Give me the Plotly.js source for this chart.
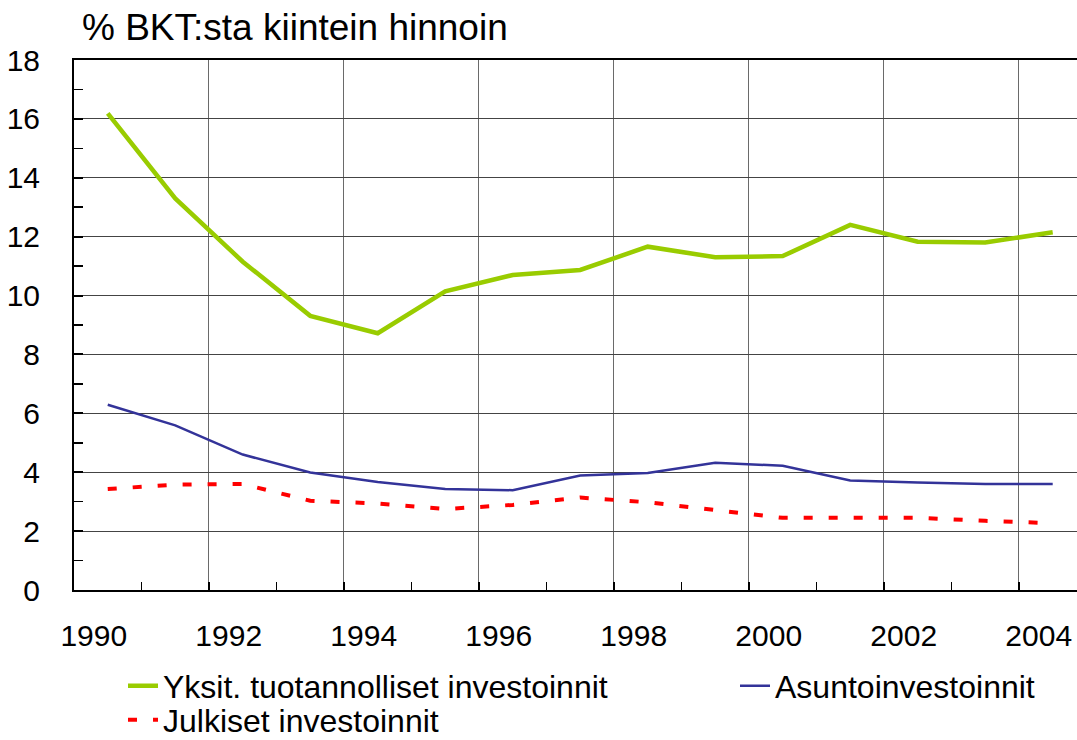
<!DOCTYPE html>
<html>
<head>
<meta charset="utf-8">
<script src="https://cdn.plot.ly/plotly-3.0.1.min.js"></script>
<style>
  html, body { margin: 0; padding: 0; background: #ffffff; }
  #chart { width: 1077px; height: 740px; }
</style>
</head>
<body>
<div id="chart"></div>
<script>
// ---- data ----
const years = [1990, 1991, 1992, 1993, 1994, 1995, 1996, 1997, 1998, 1999, 2000, 2001, 2002, 2003, 2004];
const yksit = [16.19, 13.30, 11.15, 9.31, 8.72, 10.14, 10.70, 10.87, 11.66, 11.30, 11.34, 12.40, 11.83, 11.80, 12.15];
const asunto = [6.29, 5.59, 4.60, 3.99, 3.67, 3.43, 3.39, 3.89, 3.97, 4.32, 4.22, 3.72, 3.65, 3.60, 3.60];
const julkiset = [3.43, 3.58, 3.60, 3.03, 2.94, 2.75, 2.89, 3.14, 2.98, 2.72, 2.45, 2.45, 2.45, 2.35, 2.27];
const seriesNames = ["Yksit. tuotannolliset investoinnit", "Asuntoinvestoinnit", "Julkiset investoinnit"];
const labelYears = years.filter(y => y % 2 === 0);
const labelText = labelYears.map(String);
const chartTitle = "% BKT:sta kiintein hinnoin";

const FONT = "Arial, 'Liberation Sans', Helvetica, sans-serif";
const xRange = [1989.5, 2004.36];

const traces = [
  { x: years, y: yksit, name: seriesNames[0], type: "scatter", mode: "lines",
    line: { color: "#99cc00", width: 4.5 }, legend: "legend" },
  { x: years, y: asunto, name: seriesNames[1], type: "scatter", mode: "lines",
    line: { color: "#333399", width: 2.5 }, legend: "legend2" },
  { x: years, y: julkiset, name: seriesNames[2], type: "scatter", mode: "lines",
    line: { color: "#ff0000", width: 4, dash: "9px,16px" }, legend: "legend3" },
  // invisible helper trace so the tick-mark axis (x2) is drawn
  { x: years, y: years.map(() => null), xaxis: "x2", yaxis: "y", type: "scatter", mode: "lines",
    showlegend: false, hoverinfo: "skip" }
];

function legendAt(px, py) {
  return {
    orientation: "v", xref: "container", yref: "container",
    x: px / 1077, xanchor: "left", y: 1 - py / 740, yanchor: "middle",
    font: { family: FONT, size: 32, color: "#000000" }, bgcolor: "rgba(0,0,0,0)",
    borderwidth: 0, itemwidth: 30
  };
}

const layout = {
  width: 1077, height: 740,
  margin: { l: 74, r: 0, t: 60, b: 150, pad: 0, autoexpand: false },
  paper_bgcolor: "#ffffff", plot_bgcolor: "#ffffff",
  font: { family: FONT, color: "#000000" },
  title: {
    text: chartTitle,
    font: { family: FONT, size: 37, color: "#000000" },
    xref: "container", yref: "container",
    x: 82 / 1077, xanchor: "left",
    y: 1 - 27 / 740, yanchor: "middle"
  },
  xaxis: {
    type: "linear", range: xRange,
    tickmode: "array", tickvals: labelYears, ticktext: labelText,
    ticks: "", showgrid: false, zeroline: false,
    showline: true, linecolor: "#000000", linewidth: 2, mirror: true,
    tickfont: { family: FONT, size: 30, color: "#000000" },
    ticklabelshift: -14, ticklabelstandoff: 18,
    minor: { tick0: 1989.5, dtick: 2, showgrid: true, gridcolor: "#6a6a6a", gridwidth: 1, ticks: "" }
  },
  xaxis2: {
    type: "linear", range: xRange, overlaying: "x", anchor: "y", side: "bottom",
    tick0: 1989.5, dtick: 1, ticks: "inside", ticklen: 8, tickwidth: 1.5, tickcolor: "#000000",
    showticklabels: false, showgrid: false, zeroline: false, showline: false
  },
  yaxis: {
    range: [0, 18], tick0: 0, dtick: 2,
    ticks: "inside", ticklen: 9, tickwidth: 2, tickcolor: "#000000",
    showgrid: true, gridcolor: "#444444", gridwidth: 1, zeroline: false,
    showline: true, linecolor: "#000000", linewidth: 2,
    tickfont: { family: FONT, size: 30, color: "#000000" },
    ticklabelstandoff: 26,
    minor: { dtick: 1, ticks: "inside", ticklen: 9, tickwidth: 1.5, tickcolor: "#000000", showgrid: false }
  },
  legend: legendAt(123, 686),
  legend2: legendAt(735, 686),
  legend3: legendAt(123, 720),
  showlegend: true
};

Plotly.newPlot("chart", traces, layout, { displayModeBar: false, staticPlot: true });
</script>
</body>
</html>
